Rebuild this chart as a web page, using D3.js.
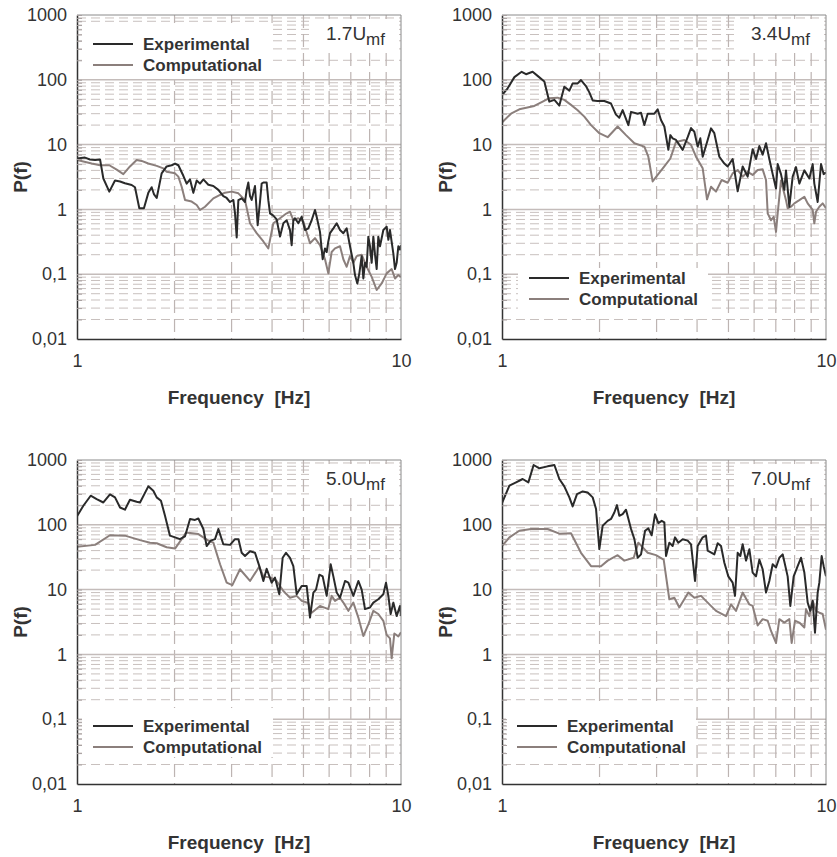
<!DOCTYPE html>
<html>
<head>
<meta charset="utf-8">
<script src="https://cdn.jsdelivr.net/npm/d3@7"></script>
<style>
  body { margin: 0; background: #fff; }
  svg { display: block; font-family: "Liberation Sans", Arial, Helvetica, sans-serif; }
</style>
</head>
<body>
<svg id="canvas" width="837" height="857"></svg>
<script>
'use strict';

/* axis ticks */
const yTicks = [1000, 100, 10, 1, 0.1, 0.01];
const yTickLabels = ['1000', '100', '10', '1', '0,1', '0,01'];
const xTicks = [1, 10];
const xTickLabels = ['1', '10'];
const seriesNames = ['Experimental', 'Computational'];
const panelTitles = ['1.7', '3.4', '5.0', '7.0'];

/* [frequency Hz, P(f)] */
const exp17 = [[1.00,6.1],[1.058,6.3],[1.097,5.9],[1.137,5.8],[1.178,5.9],[1.206,3.0],[1.258,1.88],[1.310,2.8],[1.358,2.7],[1.406,2.53],[1.475,2.38],[1.510,2.2],[1.557,1.04],[1.609,1.04],[1.660,1.8],[1.700,2.2],[1.729,1.7],[1.762,1.5],[1.825,3.6],[1.891,4.6],[1.960,4.8],[2.007,5.1],[2.055,4.8],[2.129,3.3],[2.180,2.5],[2.233,2.9],[2.286,1.8],[2.341,2.8],[2.397,2.5],[2.455,2.9],[2.543,2.4],[2.635,2.3],[2.731,2.0],[2.829,1.6],[2.897,1.5],[2.967,1.3],[3.038,1.4],[3.074,0.87],[3.111,0.37],[3.148,1.39],[3.223,1.48],[3.300,1.3],[3.339,2.0],[3.379,2.6],[3.420,1.6],[3.460,1.4],[3.543,2.3],[3.611,0.57],[3.671,1.3],[3.715,2.5],[3.760,2.6],[3.849,2.6],[3.895,1.39],[3.942,0.87],[4.036,0.80],[4.133,0.70],[4.232,0.38],[4.334,0.61],[4.437,0.68],[4.544,0.48],[4.598,0.28],[4.653,0.68],[4.708,0.73],[4.821,0.61],[4.937,0.77],[5.055,0.48],[5.176,0.51],[5.300,0.68],[5.427,0.98],[5.492,0.77],[5.623,0.45],[5.731,0.17],[5.827,0.25],[5.897,0.22],[5.966,0.32],[6.038,0.43],[6.183,0.51],[6.331,0.61],[6.483,0.48],[6.638,0.43],[6.797,0.51],[6.960,0.27],[7.127,0.15],[7.211,0.097],[7.332,0.072],[7.437,0.103],[7.561,0.19],[7.652,0.086],[7.743,0.15],[7.834,0.13],[7.928,0.38],[8.022,0.27],[8.119,0.15],[8.215,0.38],[8.314,0.20],[8.413,0.12],[8.511,0.38],[8.614,0.27],[8.820,0.48],[9.032,0.54],[9.140,0.34],[9.247,0.48],[9.469,0.21],[9.583,0.12],[9.696,0.15],[9.813,0.27],[9.929,0.24],[10,0.28]];
const comp17 = [[1.00,5.8],[1.046,5.5],[1.110,5.1],[1.178,4.8],[1.258,4.8],[1.326,4.1],[1.390,3.5],[1.457,4.6],[1.528,5.8],[1.583,5.6],[1.660,5.1],[1.762,4.7],[1.847,4.3],[1.891,3.8],[2.007,3.6],[2.055,3.2],[2.104,2.24],[2.155,1.4],[2.259,1.32],[2.341,1.17],[2.397,0.98],[2.484,1.10],[2.635,1.48],[2.764,1.67],[2.862,1.81],[3.002,1.88],[3.148,1.77],[3.300,1.39],[3.420,0.61],[3.585,0.43],[3.760,0.32],[3.895,0.25],[4.036,0.61],[4.232,0.73],[4.437,0.87],[4.544,0.92],[4.653,0.68],[4.821,0.73],[4.995,0.65],[5.238,0.30],[5.427,0.36],[5.623,0.28],[5.827,0.17],[5.966,0.103],[6.109,0.22],[6.256,0.25],[6.483,0.27],[6.638,0.17],[6.797,0.13],[6.960,0.19],[7.127,0.15],[7.298,0.19],[7.561,0.20],[7.834,0.13],[8.119,0.091],[8.413,0.057],[8.716,0.072],[9.032,0.103],[9.359,0.12],[9.583,0.086],[9.813,0.097],[10,0.091]];

const exp34 = [[1.000,58],[1.041,74],[1.092,110],[1.150,133],[1.186,122],[1.243,133],[1.288,115],[1.351,94],[1.400,46],[1.451,49],[1.503,40],[1.557,78],[1.614,68],[1.652,88],[1.712,88],[1.753,99],[1.816,80],[1.860,64],[1.905,48],[1.973,47],[2.069,47],[2.170,43],[2.248,29],[2.302,26],[2.357,34],[2.455,20],[2.502,32],[2.623,30],[2.686,31],[2.750,20],[2.816,30],[2.953,30],[3.023,35],[3.095,24],[3.170,19],[3.262,8.3],[3.308,14],[3.363,12.5],[3.444,11.8],[3.526,9.9],[3.611,8.3],[3.742,13],[3.832,18],[3.923,15.8],[4.017,9.3],[4.094,12.5],[4.163,6.5],[4.313,11.8],[4.417,17.8],[4.522,15],[4.686,6.5],[4.856,5.1],[4.972,4.6],[5.151,6],[5.338,1.9],[5.531,4.6],[5.731,3.2],[5.938,8.5],[6.081,6],[6.227,9.5],[6.375,7],[6.529,10.5],[6.685,6],[6.846,3.5],[7.010,2.1],[7.094,5],[7.262,3.5],[7.437,2],[7.525,4],[7.706,1.1],[7.891,3.2],[8.079,4.5],[8.274,2.5],[8.574,4],[8.884,3],[9.097,5],[9.204,2.5],[9.425,1.3],[9.652,5],[9.836,3.5],[10,3.7]];
const comp34 = [[1.000,22],[1.066,30],[1.131,35],[1.258,39.5],[1.335,46],[1.400,52],[1.485,53],[1.557,49],[1.633,41],[1.712,34],[1.795,27],[1.883,20],[1.997,15],[2.119,13],[2.275,19],[2.414,14],[2.562,10.5],[2.750,9.3],[2.829,6.5],[2.917,2.7],[3.023,3.4],[3.170,4.6],[3.308,6.1],[3.444,11],[3.654,11.8],[3.832,9.9],[3.970,6.5],[4.163,4.3],[4.293,1.43],[4.417,2.24],[4.576,1.88],[4.764,2.84],[4.972,2.58],[5.151,3.6],[5.338,4.06],[5.531,3.2],[5.731,3.8],[5.938,3.4],[6.154,4.06],[6.375,4.15],[6.529,2.84],[6.607,0.87],[6.765,0.68],[6.895,0.77],[7.010,0.45],[7.094,0.87],[7.262,2.8],[7.525,1.39],[7.615,1.04],[7.798,1.1],[7.985,1.24],[8.274,1.39],[8.574,1.57],[8.779,1.24],[9.097,0.98],[9.204,0.61],[9.314,0.92],[9.537,1.1],[9.766,1.24],[10,1.04]];

const exp50 = [[1.000,135],[1.046,197],[1.102,281],[1.150,249],[1.206,221],[1.264,294],[1.310,265],[1.358,185],[1.406,171],[1.457,244],[1.528,227],[1.565,221],[1.660,392],[1.720,336],[1.762,265],[1.816,235],[1.869,138],[1.936,68],[2.007,64],[2.079,60],[2.154,66],[2.233,123],[2.313,119],[2.369,125],[2.455,86],[2.513,47],[2.586,57],[2.667,60],[2.731,86],[2.829,50],[2.967,49],[3.074,60],[3.150,60],[3.223,37],[3.300,33],[3.420,39],[3.543,37],[3.654,23],[3.760,13.6],[3.849,21],[3.988,12.8],[4.084,15.3],[4.212,8.5],[4.313,31],[4.417,37],[4.544,31],[4.653,23],[4.764,8.5],[4.937,11.4],[5.115,11.4],[5.238,3.7],[5.364,9],[5.466,10],[5.597,17],[5.731,16],[5.897,8],[6.066,24.6],[6.183,16],[6.331,9],[6.483,7.5],[6.718,13.6],[6.879,12.8],[7.127,8],[7.385,13.6],[7.561,10],[7.743,5],[8.022,5.3],[8.215,6.3],[8.511,7.1],[8.820,8.5],[8.989,12.8],[9.140,8],[9.292,4.2],[9.469,6.3],[9.696,3.9],[9.929,5.6],[10,3.9]];
const comp50 = [[1.000,46],[1.137,49],[1.264,69],[1.406,68],[1.565,58],[1.680,53],[1.762,52],[1.891,45],[2.007,43],[2.104,60],[2.170,76],[2.369,72],[2.543,57],[2.635,53],[2.764,24.6],[2.897,12.8],[3.016,11.7],[3.185,20.6],[3.420,13.6],[3.654,22.7],[3.760,16],[3.960,15.3],[4.133,13.6],[4.334,9.5],[4.544,7.5],[4.764,8],[4.937,6.7],[5.176,6.2],[5.300,4.4],[5.623,5.6],[5.966,5],[6.109,8],[6.256,6.7],[6.483,7.5],[6.638,6.3],[6.879,4.7],[7.127,6.3],[7.385,3.7],[7.652,1.92],[7.928,2.9],[8.215,4.7],[8.511,4.2],[8.820,3.3],[9.032,2.0],[9.247,1.77],[9.359,0.87],[9.537,2.1],[9.813,1.9],[10,2.2]];

const exp70 = [[1.000,216],[1.054,401],[1.105,452],[1.158,509],[1.206,452],[1.252,837],[1.304,744],[1.383,798],[1.451,837],[1.503,509],[1.557,392],[1.614,265],[1.652,192],[1.704,298],[1.774,327],[1.838,316],[1.905,265],[1.951,175],[1.997,42],[2.045,97],[2.119,115],[2.170,123],[2.222,155],[2.264,201],[2.302,138],[2.357,146],[2.414,171],[2.502,86],[2.562,60],[2.623,31],[2.686,35],[2.764,81],[2.829,88],[2.897,69],[2.967,146],[3.038,106],[3.111,115],[3.170,109],[3.208,33],[3.284,53],[3.363,47],[3.420,64],[3.501,53],[3.611,60],[3.742,57],[3.832,50],[3.942,13.6],[4.017,47],[4.163,64],[4.262,68],[4.313,40],[4.522,35],[4.631,52],[4.742,47],[4.856,26],[4.995,16],[5.151,12.8],[5.238,8],[5.338,37],[5.440,33],[5.531,50],[5.664,28],[5.800,42],[5.938,18.3],[6.081,16],[6.227,29],[6.375,20.6],[6.529,9],[6.685,13.6],[6.846,24.6],[7.010,21.9],[7.178,31],[7.350,35],[7.615,16],[7.761,5.6],[7.947,16],[8.176,23],[8.372,31],[8.574,18.3],[8.779,6.3],[8.945,4.7],[9.097,6.7],[9.247,2.16],[9.425,9],[9.537,12.8],[9.696,33],[9.836,23],[10,16]];
const comp70 = [[1.000,47],[1.054,64],[1.131,81],[1.229,86],[1.383,86],[1.503,73],[1.633,74],[1.753,37],[1.883,23],[2.021,23],[2.119,28],[2.275,34],[2.385,28],[2.550,31],[2.635,53],[2.816,37],[2.987,34],[3.155,29],[3.284,7.1],[3.404,7.5],[3.526,5.3],[3.760,9],[3.923,7.5],[4.114,8],[4.313,6.3],[4.576,4.7],[4.914,3.9],[5.091,5.9],[5.275,4.7],[5.531,9],[5.800,5.9],[5.938,5.6],[6.154,2.8],[6.375,3.5],[6.607,3.3],[6.765,2.3],[7.010,1.5],[7.178,3.5],[7.437,3.1],[7.706,3.5],[7.834,1.5],[8.022,3.3],[8.274,3.1],[8.574,2.6],[8.676,5],[8.884,3.9],[9.097,6.7],[9.314,4.7],[9.537,4.4],[9.766,4.2],[10,2.4]];

/* panel layout */
const W = 324, H = 324;
const panels = [
  { title: panelTitles[0], exp: exp17, comp: comp17, left: 77,  top: 15,  legend: { bx: 5,  by: 8,   bw: 191, bh: 56, ly: 21 } },
  { title: panelTitles[1], exp: exp34, comp: comp34, left: 502, top: 15,  legend: { bx: 16, by: 253, bw: 190, bh: 45, ly: 10 } },
  { title: panelTitles[2], exp: exp50, comp: comp50, left: 77,  top: 460, legend: { bx: 5,  by: 248, bw: 191, bh: 49, ly: 18 } },
  { title: panelTitles[3], exp: exp70, comp: comp70, left: 502, top: 460, legend: { bx: 4,  by: 247, bw: 190, bh: 50, ly: 19 } }
];

const colExp = '#2a2a2a';
const colComp = '#8b7f7c';
const colGrid = '#c8c0be';
const colText = '#333';

/* minor grid values */
const decades = [0.01, 0.1, 1, 10, 100];
const minorY = [];
decades.forEach(function(d){ for (let k = 2; k <= 9; k++) minorY.push(k * d); });
const minorX = [2, 3, 4, 5, 6, 7, 8, 9];

const svg = d3.select('#canvas');
svg.append('rect').attr('width', 837).attr('height', 857).attr('fill', '#fff');

panels.forEach(function(p, i){
  const x = d3.scaleLog().domain([1, 10]).range([0, W]);
  const y = d3.scaleLog().domain([0.01, 1000]).range([H, 0]);
  const g = svg.append('g').attr('transform', 'translate(' + p.left + ',' + p.top + ')');

  g.append('clipPath').attr('id', 'clip' + i)
    .append('rect').attr('width', W).attr('height', H);

  /* grid */
  const grid = g.append('g').attr('class', 'grid');
  grid.selectAll('line.hmin').data(minorY).enter().append('line')
    .attr('x1', 0).attr('x2', W)
    .attr('y1', function(d){ return y(d); }).attr('y2', function(d){ return y(d); })
    .attr('stroke', colGrid).attr('stroke-width', 1)
    .attr('stroke-dasharray', '9,5');
  grid.selectAll('line.vmin').data(minorX).enter().append('line')
    .attr('y1', 0).attr('y2', H)
    .attr('x1', function(d){ return x(d); }).attr('x2', function(d){ return x(d); })
    .attr('stroke', '#bdb4b2').attr('stroke-width', 1.2)
    .attr('stroke-dasharray', '13,6');
  grid.selectAll('line.hmaj').data([0.1, 1, 10, 100]).enter().append('line')
    .attr('x1', 0).attr('x2', W)
    .attr('y1', function(d){ return y(d); }).attr('y2', function(d){ return y(d); })
    .attr('stroke', '#c4bcba').attr('stroke-width', 1.5);

  /* white boxes behind legend and title */
  const L = p.legend;
  g.append('rect').attr('x', L.bx).attr('y', L.by).attr('width', L.bw).attr('height', L.bh).attr('fill', '#fff');
  g.append('rect').attr('x', 232).attr('y', 4).attr('width', 86).attr('height', 33).attr('fill', '#fff');

  /* series */
  const line = d3.line()
    .x(function(d){ return x(d[0]); })
    .y(function(d){ return y(d[1]); });
  const plot = g.append('g').attr('clip-path', 'url(#clip' + i + ')');
  plot.append('path').datum(p.comp)
    .attr('d', line).attr('fill', 'none')
    .attr('stroke', colComp).attr('stroke-width', 2).attr('stroke-linejoin', 'round');
  plot.append('path').datum(p.exp)
    .attr('d', line).attr('fill', 'none')
    .attr('stroke', colExp).attr('stroke-width', 2).attr('stroke-linejoin', 'round');

  /* frame: top and right lighter */
  g.append('line').attr('x1', 0).attr('x2', W).attr('y1', 0).attr('y2', 0)
    .attr('stroke', '#8a8a8a').attr('stroke-width', 1);
  g.append('line').attr('x1', W).attr('x2', W).attr('y1', 0).attr('y2', H)
    .attr('stroke', '#8a8a8a').attr('stroke-width', 1);

  /* y axis, inward minor ticks */
  const yAxis = d3.axisLeft(y)
    .tickValues(yTicks.concat(minorY))
    .tickSizeInner(-5).tickSizeOuter(0).tickPadding(10)
    .tickFormat(function(d){
      const k = yTicks.indexOf(d);
      return k >= 0 ? yTickLabels[k] : '';
    });
  const ya = g.append('g').call(yAxis);
  ya.select('.domain').attr('stroke', '#333').attr('stroke-width', 1.5);
  ya.selectAll('.tick line').attr('stroke', '#a8a0a0');
  ya.selectAll('.tick text').attr('font-size', 18).attr('fill', colText)
    .attr('font-family', '"Liberation Sans", Arial, sans-serif');

  /* x axis */
  const xAxis = d3.axisBottom(x)
    .tickValues(xTicks)
    .tickSizeInner(0).tickSizeOuter(0).tickPadding(15)
    .tickFormat(function(d){ return xTickLabels[xTicks.indexOf(d)]; });
  const xa = g.append('g').attr('transform', 'translate(0,' + H + ')').call(xAxis);
  xa.select('.domain').attr('stroke', '#333').attr('stroke-width', 1.5);
  xa.selectAll('.tick text').attr('font-size', 18).attr('fill', colText)
    .attr('font-family', '"Liberation Sans", Arial, sans-serif');

  /* axis titles */
  g.append('text')
    .attr('x', W / 2).attr('y', H + 65)
    .attr('text-anchor', 'middle')
    .attr('font-size', 19).attr('font-weight', 'bold').attr('fill', colText)
    .style('white-space', 'pre')
    .text('Frequency  [Hz]');
  g.append('text')
    .attr('transform', 'translate(-50,' + (H / 2) + ') rotate(-90)')
    .attr('text-anchor', 'middle')
    .attr('font-size', 19).attr('font-weight', 'bold').attr('fill', colText)
    .text('P(f)');

  /* panel title */
  const t = g.append('text')
    .attr('x', 308).attr('y', 25)
    .attr('text-anchor', 'end')
    .attr('font-size', 19).attr('fill', colText);
  t.append('tspan').text(p.title + 'U');
  t.append('tspan').attr('dy', 5).attr('font-size', 17).text('mf');

  /* legend */
  const lg = g.append('g');
  [colExp, colComp].forEach(function(c, k){
    const ly = L.by + L.ly + k * 21;
    lg.append('line')
      .attr('x1', L.bx + 11).attr('x2', L.bx + 51)
      .attr('y1', ly).attr('y2', ly)
      .attr('stroke', c).attr('stroke-width', 2);
    lg.append('text')
      .attr('x', L.bx + 61).attr('y', ly + 6)
      .attr('font-size', 17).attr('font-weight', 'bold').attr('fill', colText)
      .text(seriesNames[k]);
  });
});
</script>
</body>
</html>
